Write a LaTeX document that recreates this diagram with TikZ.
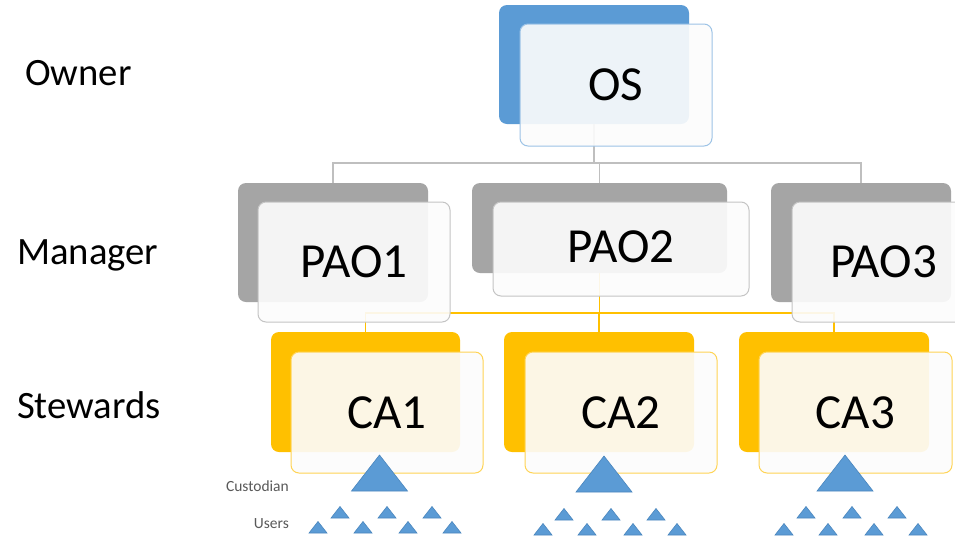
\documentclass[tikz,border=0pt]{standalone}
\usepackage{fontspec}
\setmainfont{Carlito}
\begin{document}
\begin{tikzpicture}[x=1pt,y=-1pt,
  back/.style={rounded corners=8pt, inner sep=0pt, draw=none},
  front/.style={rounded corners=8pt, inner sep=0pt, fill=white!99!black, fill opacity=0.91, text opacity=1, line width=1pt, font=\fontsize{49}{49}\selectfont},
  blueb/.style={back, fill=blueM},
  grayb/.style={back, fill=grayM},
  yellb/.style={back, fill=yellM},
  bluef/.style={front, draw=blueL},
  grayf/.style={front, draw=grayL},
  yellf/.style={front, draw=yellL},
  role/.style={anchor=west, inner sep=0pt, font=\fontsize{38.7}{39}\selectfont},
  small/.style={anchor=east, inner sep=0pt, text=txtG, font=\fontsize{15.5}{16}\selectfont},
  gline/.style={draw=lineG, line width=1.5pt},
  yline/.style={draw=yellM, line width=1.2pt},
  trifill/.style={fill=blueM, draw=blueD, line width=0.6pt},
  bigtri/.pic={\path[trifill] (-28,0) -- (0,-36) -- (28,0) -- cycle;},
  smalltri/.pic={\path[trifill] (-9,0) -- (0,-11.5) -- (9,0) -- cycle;}
]
\definecolor{blueM}{HTML}{5B9BD5}
\definecolor{blueD}{HTML}{4A86BE}
\definecolor{blueL}{HTML}{9DC3E6}
\definecolor{grayM}{HTML}{A5A5A5}
\definecolor{grayL}{HTML}{C4C4C4}
\definecolor{yellM}{HTML}{FFC000}
\definecolor{yellL}{HTML}{FFD455}
\definecolor{lineG}{HTML}{BFBFBF}
\definecolor{txtG}{HTML}{595959}
\useasboundingbox[fill=white] (0,0) rectangle (955,539);

% back boxes
\node[blueb, minimum width=190pt, minimum height=119pt] (osb) at (594,64.5) {};
\node[grayb, minimum width=190pt, minimum height=119pt] (pao1b) at (333,242.5) {};
\node[grayb, minimum width=255pt, minimum height=90pt] (pao2b) at (599.5,228) {};
\node[grayb, minimum width=180pt, minimum height=119pt] (pao3b) at (861,242.5) {};
\node[yellb, minimum width=189pt, minimum height=120pt] (ca1b) at (365.5,392) {};
\node[yellb, minimum width=190pt, minimum height=120pt] (ca2b) at (599,392) {};
\node[yellb, minimum width=190pt, minimum height=120pt] (ca3b) at (834,392) {};

% connectors
\coordinate (gbus) at (594,163);
\coordinate (ybus) at (599,313);
\draw[gline] (osb.south) -- (osb.south |- gbus);
\draw[gline] (pao1b.north) -- (pao1b.north |- gbus) -- (pao3b.north |- gbus) -- (pao3b.north);
\draw[gline] (pao2b.north) -- (pao2b.north |- gbus);
\draw[yline] (pao2b.south) -- (pao2b.south |- ybus);
\draw[yline] (ca1b.north) -- (ca1b.north |- ybus) -- (ca3b.north |- ybus) -- (ca3b.north);
\draw[yline] (ca2b.north) -- (ca2b.north |- ybus);

% front boxes
\node[bluef, minimum width=192pt, minimum height=122pt] (os) at (616,85) {OS};
\node[grayf, minimum width=192pt, minimum height=120pt] (pao1) at (354,262) {PAO1};
\node[grayf, minimum width=256pt, minimum height=94pt] (pao2) at (621,249) {\raisebox{5pt}{PAO2}};
\node[grayf, minimum width=183pt, minimum height=120pt] (pao3) at (883.5,262) {PAO3};
\node[yellf, minimum width=192pt, minimum height=121pt] (ca1) at (387,412.5) {CA1};
\node[yellf, minimum width=192pt, minimum height=121pt] (ca2) at (621,412.5) {CA2};
\node[yellf, minimum width=193pt, minimum height=121pt] (ca3) at (855.5,412.5) {CA3};

% role labels
\node[role] (owner) at (25,73) {Owner};
\node[role] (manager) at (17,255) {Manager};
\node[role] (stewards) at (17,405) {Stewards};
\node[small] (cust) at (289,486) {Custodian};
\node[small] (users) at (289,524) {Users};

% custodians
\pic at (379.5,491) {bigtri};
\pic at (604,492) {bigtri};
\pic at (845,491) {bigtri};

% users
\foreach \x in {340,387,432} \pic at (\x,518) {smalltri};
\foreach \x in {318,363,408,452} \pic at (\x,533) {smalltri};
\foreach \x in {564,611,656} \pic at (\x,520) {smalltri};
\foreach \x in {543,587,633,677} \pic at (\x,535) {smalltri};
\foreach \x in {806,852,897} \pic at (\x,518) {smalltri};
\foreach \x in {784,828,874,918} \pic at (\x,535) {smalltri};
\end{tikzpicture}
\end{document}
